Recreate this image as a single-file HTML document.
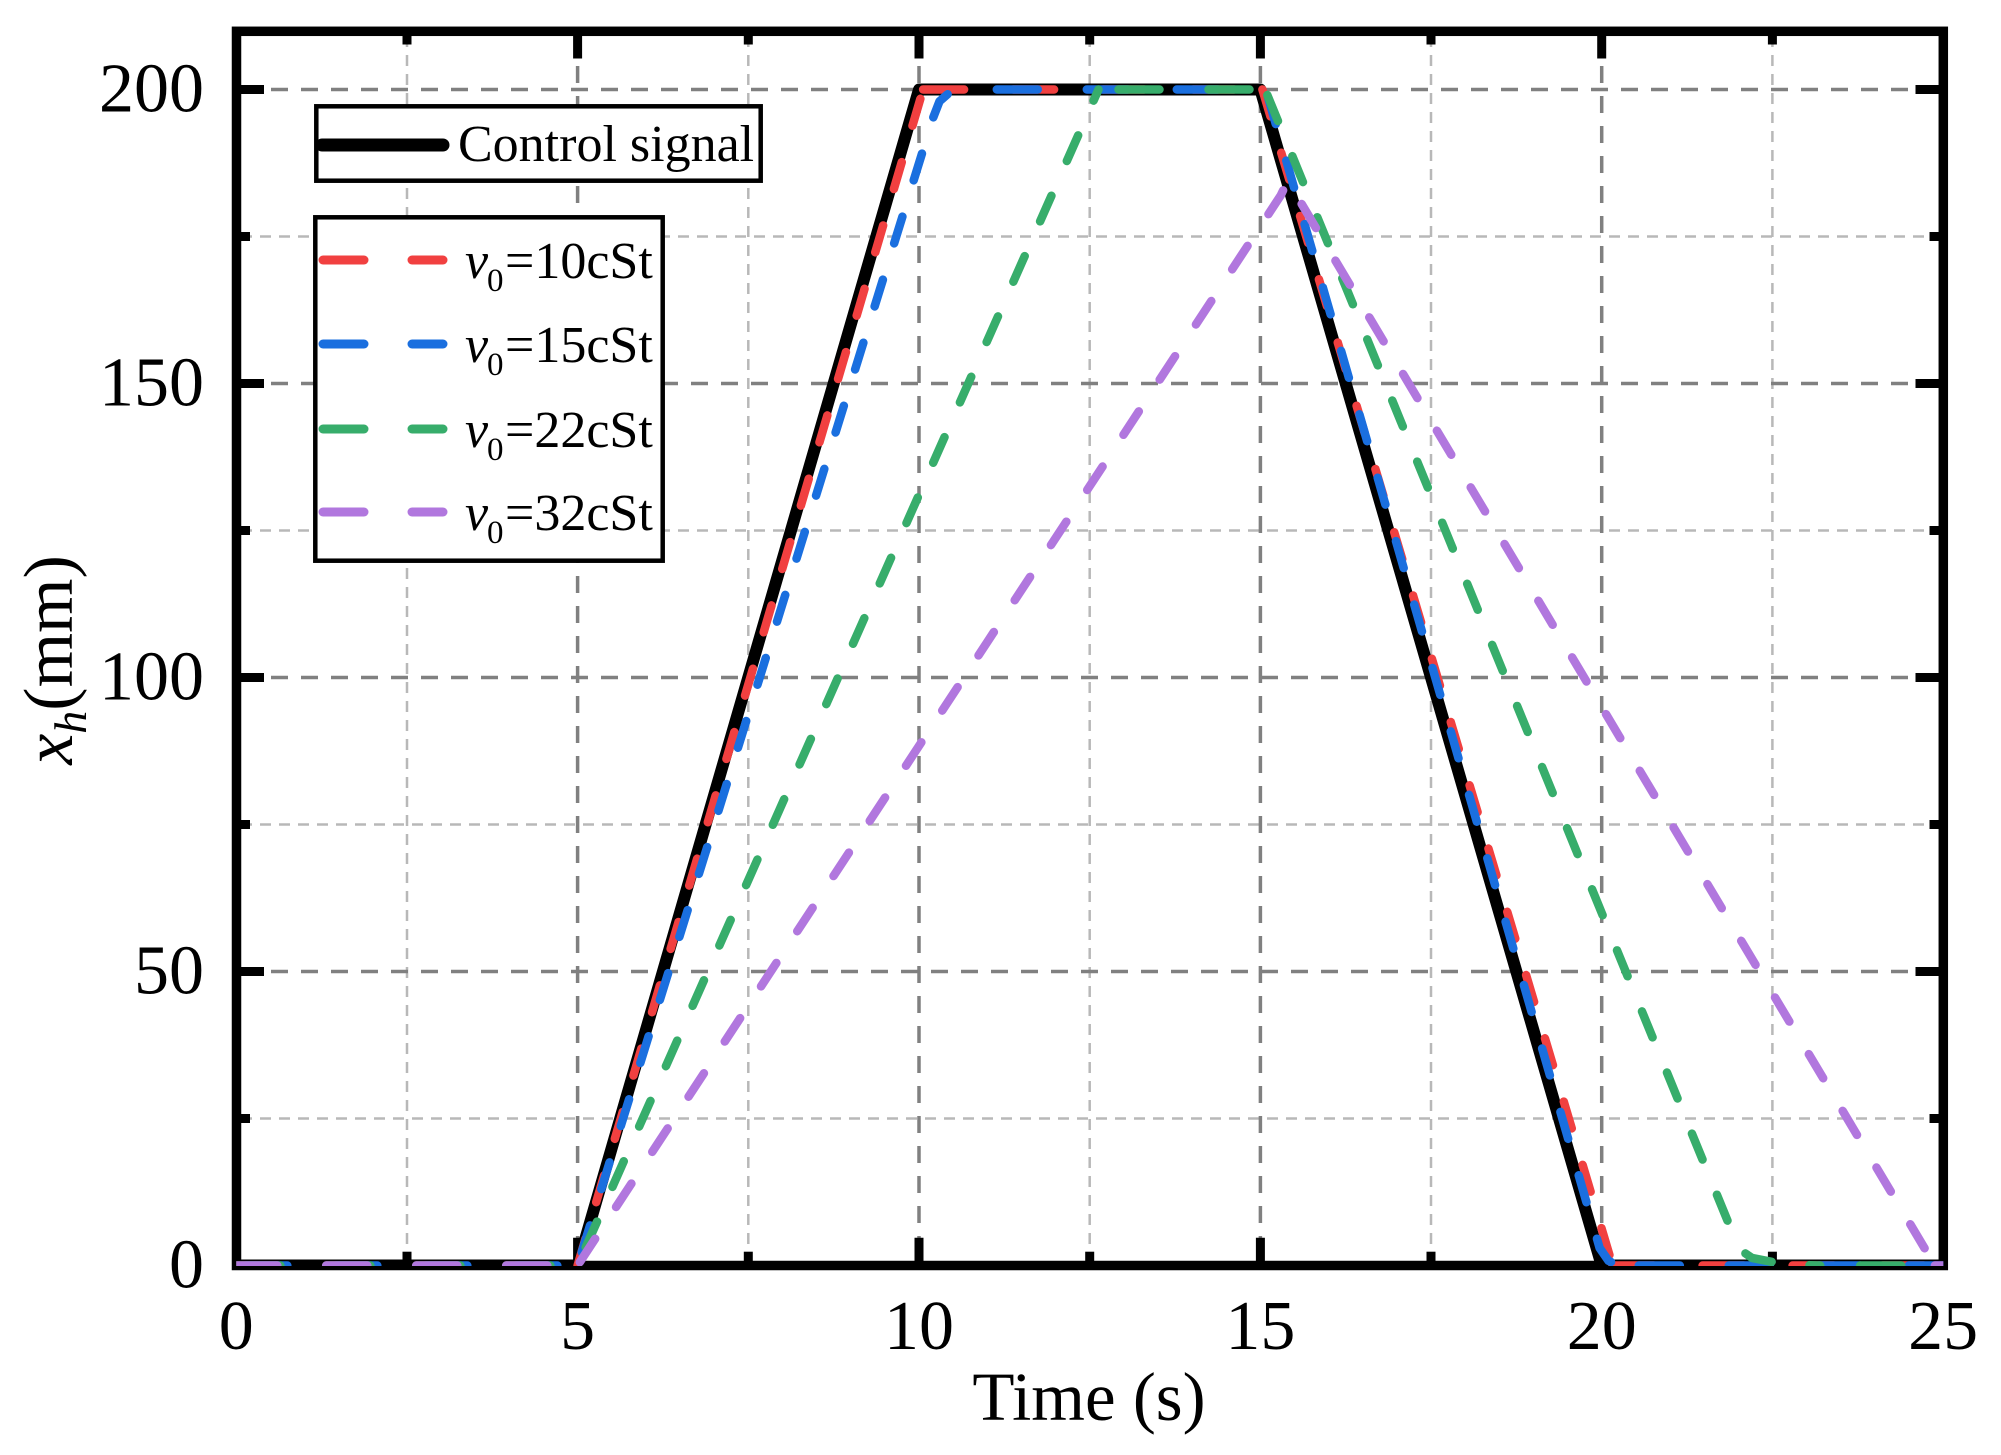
<!DOCTYPE html>
<html>
<head>
<meta charset="utf-8">
<style>
html,body{margin:0;padding:0;background:#fff;}
svg{display:block;}
text{font-family:"Liberation Serif","Times New Roman",serif;fill:#000;}
</style>
</head>
<body>
<svg width="2001" height="1455" viewBox="0 0 2001 1455" xmlns="http://www.w3.org/2000/svg">
<rect x="0" y="0" width="2001" height="1455" fill="#fff"/>
<defs>
<clipPath id="plot"><rect x="236.3" y="31" width="1707" height="1235"/></clipPath>
</defs>

<!-- minor gridlines -->
<g stroke="#b8b8b8" stroke-width="2.5" stroke-dasharray="11 8" fill="none">
<line x1="407.0" y1="36" x2="407.0" y2="1260"/>
<line x1="748.3" y1="36" x2="748.3" y2="1260"/>
<line x1="1089.7" y1="36" x2="1089.7" y2="1260"/>
<line x1="1431.0" y1="36" x2="1431.0" y2="1260"/>
<line x1="1772.4" y1="36" x2="1772.4" y2="1260"/>
<line x1="241" y1="1118.5" x2="1938" y2="1118.5"/>
<line x1="241" y1="824.5" x2="1938" y2="824.5"/>
<line x1="241" y1="530.5" x2="1938" y2="530.5"/>
<line x1="241" y1="236.5" x2="1938" y2="236.5"/>
</g>
<!-- major gridlines -->
<g stroke="#808080" stroke-width="3.5" stroke-dasharray="17 13" fill="none">
<line x1="577.6" y1="36" x2="577.6" y2="1260"/>
<line x1="919.0" y1="36" x2="919.0" y2="1260"/>
<line x1="1260.4" y1="36" x2="1260.4" y2="1260"/>
<line x1="1601.7" y1="36" x2="1601.7" y2="1260"/>
<line x1="241" y1="971.5" x2="1938" y2="971.5"/>
<line x1="241" y1="677.5" x2="1938" y2="677.5"/>
<line x1="241" y1="383.5" x2="1938" y2="383.5"/>
<line x1="241" y1="89.5" x2="1938" y2="89.5"/>
</g>

<!-- frame -->
<rect x="236.5" y="31.3" width="1706.8" height="1234.2" fill="none" stroke="#000" stroke-width="9.5"/>
<!-- ticks -->
<g stroke="#000" stroke-width="9" fill="none">
<!-- left major -->
<line x1="236.5" y1="971.5" x2="264" y2="971.5"/>
<line x1="236.5" y1="677.5" x2="264" y2="677.5"/>
<line x1="236.5" y1="383.5" x2="264" y2="383.5"/>
<line x1="236.5" y1="89.5" x2="264" y2="89.5"/>
<!-- left minor -->
<line x1="236.5" y1="1118.5" x2="250" y2="1118.5"/>
<line x1="236.5" y1="824.5" x2="250" y2="824.5"/>
<line x1="236.5" y1="530.5" x2="250" y2="530.5"/>
<line x1="236.5" y1="236.5" x2="250" y2="236.5"/>
<!-- right major -->
<line x1="1943" y1="971.5" x2="1915.5" y2="971.5"/>
<line x1="1943" y1="677.5" x2="1915.5" y2="677.5"/>
<line x1="1943" y1="383.5" x2="1915.5" y2="383.5"/>
<line x1="1943" y1="89.5" x2="1915.5" y2="89.5"/>
<!-- right minor -->
<line x1="1943" y1="1118.5" x2="1929.5" y2="1118.5"/>
<line x1="1943" y1="824.5" x2="1929.5" y2="824.5"/>
<line x1="1943" y1="530.5" x2="1929.5" y2="530.5"/>
<line x1="1943" y1="236.5" x2="1929.5" y2="236.5"/>
<!-- top major -->
<line x1="577.6" y1="31.3" x2="577.6" y2="58.5"/>
<line x1="919.0" y1="31.3" x2="919.0" y2="58.5"/>
<line x1="1260.4" y1="31.3" x2="1260.4" y2="58.5"/>
<line x1="1601.7" y1="31.3" x2="1601.7" y2="58.5"/>
<!-- top minor -->
<line x1="407.0" y1="31.3" x2="407.0" y2="44.5"/>
<line x1="748.3" y1="31.3" x2="748.3" y2="44.5"/>
<line x1="1089.7" y1="31.3" x2="1089.7" y2="44.5"/>
<line x1="1431.0" y1="31.3" x2="1431.0" y2="44.5"/>
<line x1="1772.4" y1="31.3" x2="1772.4" y2="44.5"/>
<!-- bottom major -->
<line x1="577.6" y1="1265.3" x2="577.6" y2="1237.7"/>
<line x1="919.0" y1="1265.3" x2="919.0" y2="1237.7"/>
<line x1="1260.4" y1="1265.3" x2="1260.4" y2="1237.7"/>
<line x1="1601.7" y1="1265.3" x2="1601.7" y2="1237.7"/>
<!-- bottom minor -->
<line x1="407.0" y1="1265.3" x2="407.0" y2="1251.7"/>
<line x1="748.3" y1="1265.3" x2="748.3" y2="1251.7"/>
<line x1="1089.7" y1="1265.3" x2="1089.7" y2="1251.7"/>
<line x1="1431.0" y1="1265.3" x2="1431.0" y2="1251.7"/>
<line x1="1772.4" y1="1265.3" x2="1772.4" y2="1251.7"/>
</g>

<!-- data -->
<g clip-path="url(#plot)" fill="none" stroke-linecap="round" stroke-linejoin="round">
<!-- control signal -->
<path d="M236.3,1265.5 L577.6,1265.5 L919,89.5 L1260.4,89.5 L1601.7,1265.5 L1943.1,1265.5" stroke="#000" stroke-width="12" stroke-linecap="butt"/>

<!-- red 10cSt -->
<g stroke="#f14040" stroke-width="8.5">
<path d="M236.3,1265.5 L577.6,1265.5" stroke-dasharray="41 49"/>
<path d="M577.6,1265.5 L923.1,89.5" stroke-dasharray="28 38"/>
<path d="M923.1,89.5 L1262.4,89.5" stroke-dasharray="41 49"/>
<path d="M1262.4,89.5 L1612.6,1265.5" stroke-dasharray="28 38"/>
<path d="M1612.6,1265.5 L1943.1,1265.5" stroke-dasharray="41 49"/>
</g>
<!-- blue 15cSt -->
<g stroke="#1a6fdf" stroke-width="8.5">
<path d="M236.3,1265.5 L577.6,1265.5" stroke-dasharray="41 49" stroke-dashoffset="-10"/>
<path d="M577.6,1265.5 L932.7,118.9 L939.5,101.3 L949.7,92.4 L966.8,89.5" stroke-dasharray="28 38" stroke-dashoffset="-14"/>
<path d="M966.8,89.5 L1265.8,89.5" stroke-dasharray="41 49" stroke-dashoffset="-30"/>
<path d="M1265.8,89.5 L1599.6,1247.9 L1608.5,1260.8 L1618.8,1265.5" stroke-dasharray="28 38" stroke-dashoffset="-8"/>
<path d="M1618.8,1265.5 L1943.1,1265.5" stroke-dasharray="41 49" stroke-dashoffset="-20"/>
</g>
<!-- green 22cSt -->
<g stroke="#37ad6b" stroke-width="8.5">
<path d="M236.3,1265.5 L577.6,1265.5" stroke-dasharray="44 46"/>
<path d="M577.6,1265.5 L1098.5,89.5" stroke-dasharray="28 38" stroke-dashoffset="-20"/>
<path d="M1098.5,89.5 L1265.1,89.5" stroke-dasharray="41 49" stroke-dashoffset="-20"/>
<path d="M1265.1,89.5 L1734.8,1238.5 L1741.6,1250.8 L1751.9,1257.9 L1772.4,1262.0 L1799.7,1264.9 L1820.2,1265.5" stroke-dasharray="28 38" stroke-dashoffset="-6"/>
<path d="M1820.2,1265.5 L1943.1,1265.5" stroke-dasharray="41 49" stroke-dashoffset="-40"/>
</g>
<!-- purple 32cSt -->
<g stroke="#b177de" stroke-width="8.5">
<path d="M236.3,1265.5 L577.6,1265.5" stroke-dasharray="41 49"/>
<path d="M577.6,1265.5 L1280.8,195.3 L1287.7,180.6 L1934.9,1265.5" stroke-dasharray="28 38" stroke-dashoffset="-4"/>
<path d="M1934.9,1265.5 L1943.1,1265.5"/>
</g>
</g>

<!-- tick labels -->
<g font-size="70" text-anchor="end">
<text x="204" y="1287.5">0</text>
<text x="204" y="993.5">50</text>
<text x="204" y="699.5">100</text>
<text x="204" y="405.5">150</text>
<text x="204" y="111.5">200</text>
</g>
<g font-size="70" text-anchor="middle">
<text x="236.3" y="1349">0</text>
<text x="577.6" y="1349">5</text>
<text x="919.0" y="1349">10</text>
<text x="1260.4" y="1349">15</text>
<text x="1601.7" y="1349">20</text>
<text x="1943.1" y="1349">25</text>
</g>

<!-- axis titles -->
<text x="1089" y="1420" font-size="69" text-anchor="middle">Time (s)</text>
<text transform="translate(72,660) rotate(-90)" font-size="70" text-anchor="middle"><tspan font-style="italic">x</tspan><tspan font-style="italic" font-size="46" dy="14">h</tspan><tspan dy="-14">(mm)</tspan></text>

<!-- legend 1 -->
<rect x="316.3" y="106.3" width="444.4" height="74.4" fill="#fff" stroke="#000" stroke-width="4.5"/>
<line x1="322" y1="145" x2="443" y2="145" stroke="#000" stroke-width="13" stroke-linecap="round"/>
<text x="458" y="161" font-size="52">Control signal</text>

<!-- legend 2 -->
<rect x="315.3" y="217.3" width="347.4" height="343.4" fill="#fff" stroke="#000" stroke-width="4.5"/>
<g stroke-width="9" stroke-linecap="round">
<line x1="323" y1="260" x2="364" y2="260" stroke="#f14040"/>
<line x1="412" y1="260" x2="443" y2="260" stroke="#f14040"/>
<line x1="323" y1="344" x2="364" y2="344" stroke="#1a6fdf"/>
<line x1="412" y1="344" x2="443" y2="344" stroke="#1a6fdf"/>
<line x1="323" y1="429" x2="364" y2="429" stroke="#37ad6b"/>
<line x1="412" y1="429" x2="443" y2="429" stroke="#37ad6b"/>
<line x1="323" y1="512" x2="364" y2="512" stroke="#b177de"/>
<line x1="412" y1="512" x2="443" y2="512" stroke="#b177de"/>
</g>
<g font-size="52">
<text x="465" y="278"><tspan font-style="italic">ν</tspan><tspan x="487" font-size="33" dy="13">0</tspan><tspan x="505" dy="-13">=10cSt</tspan></text>
<text x="465" y="362"><tspan font-style="italic">ν</tspan><tspan x="487" font-size="33" dy="13">0</tspan><tspan x="505" dy="-13">=15cSt</tspan></text>
<text x="465" y="447"><tspan font-style="italic">ν</tspan><tspan x="487" font-size="33" dy="13">0</tspan><tspan x="505" dy="-13">=22cSt</tspan></text>
<text x="465" y="530"><tspan font-style="italic">ν</tspan><tspan x="487" font-size="33" dy="13">0</tspan><tspan x="505" dy="-13">=32cSt</tspan></text>
</g>
</svg>
</body>
</html>
